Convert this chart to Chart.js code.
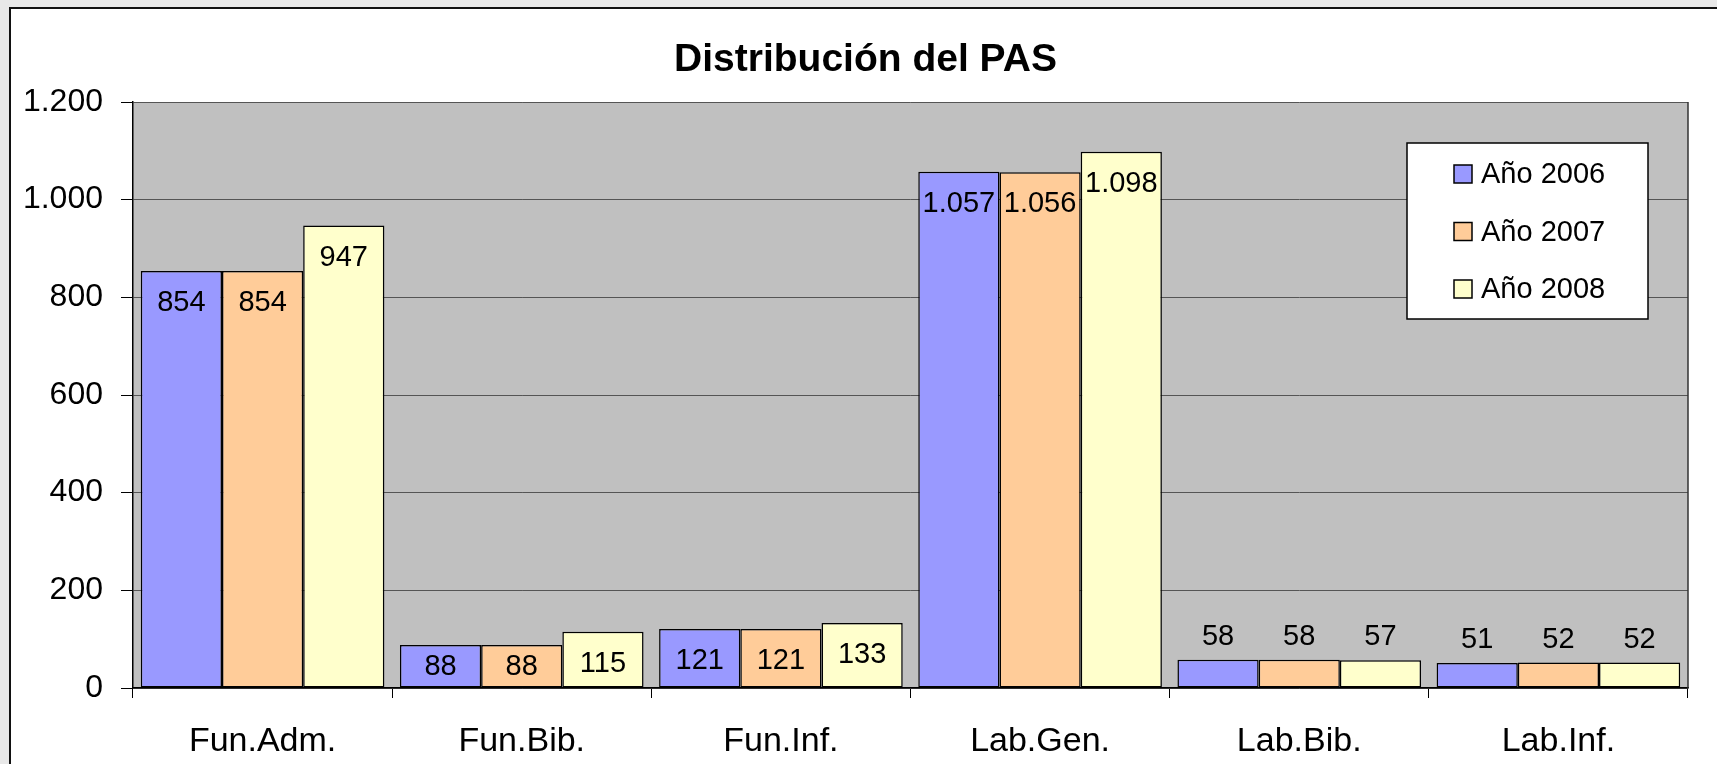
<!DOCTYPE html>
<html lang="es">
<head>
  <meta charset="UTF-8">
  <title>Distribución del PAS</title>
  <script src="https://cdn.jsdelivr.net/npm/chart.js"></script>
  <style>
    html, body {
      margin: 0;
      padding: 0;
      background: #e8e8e8;
      overflow: hidden;
    }
    .frame {
      position: absolute;
      left: 9px;
      top: 7px;
      width: 1760px;
      height: 820px;
      background: #fff;
      border: 2px solid #111;
    }
    .chart-box {
      position: absolute;
      left: 0;
      top: 0;
      width: 1717px;
      height: 764px;
    }
  </style>
</head>
<body>
  <div class="frame"></div>
  <div class="chart-box">
    <canvas id="myChart"></canvas>
  </div>

  <script>
    const chartTitle = 'Distribución del PAS';
    const categories = ['Fun.Adm.', 'Fun.Bib.', 'Fun.Inf.', 'Lab.Gen.', 'Lab.Bib.', 'Lab.Inf.'];
    const seriesNames = ['Año 2006', 'Año 2007', 'Año 2008'];
    const values2006 = [854, 88, 121, 1057, 58, 51];
    const values2007 = [854, 88, 121, 1056, 58, 52];
    const values2008 = [947, 115, 133, 1098, 57, 52];
    const yTickValues = [0, 200, 400, 600, 800, 1000, 1200];
    const yTickLabels = ['0', '200', '400', '600', '800', '1.000', '1.200'];

    const colors = ['#9999ff', '#ffcc99', '#ffffcc'];
    const FONT = '"Liberation Sans", Arial, sans-serif';

    // numbers with a dot as thousands separator
    function fmt(n) {
      return String(n).replace(/\B(?=(\d{3})+(?!\d))/g, '.');
    }

    // grey plot area with its frame
    const plotBackground = {
      id: 'plotBackground',
      beforeDraw(chart) {
        const { ctx, chartArea: a } = chart;
        ctx.save();
        ctx.fillStyle = '#c0c0c0';
        ctx.fillRect(a.left, a.top, a.right - a.left, a.bottom - a.top);
        ctx.restore();
      },
      afterDraw(chart) {
        const { ctx, chartArea: a } = chart;
        ctx.save();
        ctx.strokeStyle = '#333';
        ctx.lineWidth = 1.5;
        ctx.beginPath();
        ctx.moveTo(a.right, a.top);
        ctx.lineTo(a.right, a.bottom);
        ctx.stroke();
        ctx.restore();
      }
    };

    // title, centred a bit right of the canvas middle like the original
    const titlePlugin = {
      id: 'titlePlugin',
      afterDraw(chart) {
        const ctx = chart.ctx;
        ctx.save();
        ctx.font = 'bold 39px ' + FONT;
        ctx.fillStyle = '#000';
        ctx.textAlign = 'center';
        ctx.textBaseline = 'middle';
        ctx.fillText(chartTitle, chart.width / 2 + 7, 60);
        ctx.restore();
      }
    };

    // value labels: inside the top of tall bars, above short ones
    const barLabels = {
      id: 'barLabels',
      afterDatasetsDraw(chart) {
        const ctx = chart.ctx;
        ctx.save();
        ctx.font = '29px ' + FONT;
        ctx.fillStyle = '#000';
        ctx.textAlign = 'center';
        ctx.textBaseline = 'middle';
        chart.data.datasets.forEach((ds, i) => {
          const meta = chart.getDatasetMeta(i);
          meta.data.forEach((bar, j) => {
            const h = bar.base - bar.y;
            let cy;
            if (h >= 38) {
              cy = Math.min(bar.y + 32, bar.base - 21);
            } else {
              cy = bar.y - 23;
            }
            ctx.fillText(fmt(ds.data[j]), bar.x, cy);
          });
        });
        ctx.restore();
      }
    };

    // boxed legend in the upper right of the plot
    const boxLegend = {
      id: 'boxLegend',
      afterDraw(chart) {
        const { ctx, chartArea: a } = chart;
        const w = 241, h = 176;
        const left = a.right - 40 - w;
        const top = a.top + 41;
        ctx.save();
        ctx.fillStyle = '#fff';
        ctx.fillRect(left, top, w, h);
        ctx.strokeStyle = '#000';
        ctx.lineWidth = 1.5;
        ctx.strokeRect(left, top, w, h);
        ctx.font = '29px ' + FONT;
        ctx.textBaseline = 'middle';
        ctx.textAlign = 'left';
        chart.data.datasets.forEach((ds, i) => {
          const cy = top + 31 + i * 57.5;
          ctx.fillStyle = ds.backgroundColor;
          ctx.fillRect(left + 47, cy - 9, 18, 18);
          ctx.strokeStyle = '#000';
          ctx.lineWidth = 1.5;
          ctx.strokeRect(left + 47, cy - 9, 18, 18);
          ctx.fillStyle = '#000';
          ctx.fillText(ds.label, left + 74, cy + 1);
        });
        ctx.restore();
      }
    };

    const seriesValues = [values2006, values2007, values2008];

    new Chart(document.getElementById('myChart'), {
      type: 'bar',
      data: {
        labels: categories,
        datasets: seriesNames.map((name, i) => ({
          label: name,
          data: seriesValues[i],
          backgroundColor: colors[i],
          borderColor: '#000',
          borderWidth: 1.5,
          borderSkipped: false,
          categoryPercentage: 0.94,
          barPercentage: 1
        }))
      },
      options: {
        responsive: true,
        maintainAspectRatio: false,
        animation: false,
        layout: {
          padding: { left: 0, right: 29, top: 102, bottom: 0 }
        },
        plugins: {
          legend: { display: false },
          tooltip: { enabled: false },
          title: { display: false }
        },
        scales: {
          x: {
            grid: {
              offset: true,
              drawOnChartArea: false,
              drawTicks: true,
              tickLength: 10,
              color: '#000',
              lineWidth: 1
            },
            border: { display: true, color: '#000', width: 1.5 },
            ticks: {
              color: '#000',
              font: { family: FONT, size: 34 },
              padding: 23,
              maxRotation: 0,
              autoSkip: false
            },
            afterFit(scale) { scale.height = 76; }
          },
          y: {
            min: 0,
            max: 1200,
            afterBuildTicks(scale) {
              scale.ticks = yTickValues.map(v => ({ value: v }));
            },
            grid: {
              color: '#555',
              lineWidth: 1,
              tickLength: 12,
              tickColor: '#000'
            },
            border: { display: true, color: '#000', width: 1.5 },
            ticks: {
              color: '#000',
              font: { family: FONT, size: 32 },
              padding: 18,
              callback: (v, idx) => yTickLabels[yTickValues.indexOf(v)]
            },
            afterFit(scale) { scale.width = 133; }
          }
        }
      },
      plugins: [plotBackground, titlePlugin, barLabels, boxLegend]
    });
  </script>
</body>
</html>
